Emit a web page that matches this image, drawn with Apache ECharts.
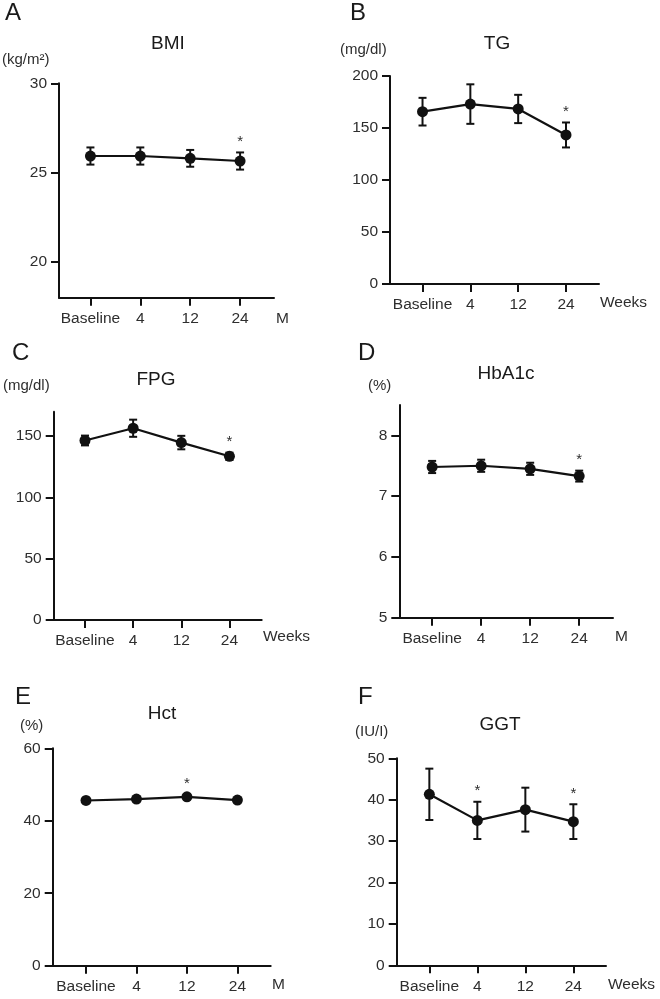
<!DOCTYPE html>
<html>
<head>
<meta charset="utf-8">
<script src="https://cdn.jsdelivr.net/npm/echarts@6/dist/echarts.min.js"></script>
<style>
html,body{margin:0;padding:0;background:#fff;}
#c{width:660px;height:999px;}
</style>
</head>
<body>
<div id="c"></div>
<script>
// ---- data ----
const categories = ['Baseline', '4', '12', '24'];

const bmiMean = [25.93, 25.93, 25.80, 25.65];
const bmiErr  = [0.48, 0.48, 0.47, 0.48];
const bmiSig  = [0, 0, 0, 1];

const tgMean = [165.7, 173.0, 168.3, 143.3];
const tgErr  = [13.3, 19.0, 13.6, 12.0];
const tgSig  = [0, 0, 0, 1];

const fpgMean = [146.5, 156.5, 144.8, 133.6];
const fpgErr  = [4.0, 7.0, 5.5, 3.0];
const fpgSig  = [0, 0, 0, 1];

const hba1cMean = [7.48, 7.50, 7.45, 7.33];
const hba1cErr  = [0.10, 0.10, 0.10, 0.09];
const hba1cSig  = [0, 0, 0, 1];

const hctMean = [45.6, 46.0, 46.6, 45.7];
const hctErr  = [0.6, 0.6, 0.6, 0.6];
const hctSig  = [0, 0, 1, 0];

const ggtMean = [41.3, 35.0, 37.6, 34.7];
const ggtErr  = [6.2, 4.5, 5.3, 4.2];
const ggtSig  = [0, 1, 0, 1];

const bmiTicks = [20, 25, 30];
const tgTicks = [0, 50, 100, 150, 200];
const fpgTicks = [0, 50, 100, 150];
const hba1cTicks = [5, 6, 7, 8];
const hctTicks = [0, 20, 40, 60];
const ggtTicks = [0, 10, 20, 30, 40, 50];

// ---- layout ----
const FONT = '"Liberation Sans", Arial, Helvetica, sans-serif';
const INK = '#111';
const TXT = '#2e2e2e';

const panels = [
  {letter:'A', title:'BMI', unit:'(kg/m²)', xunit:'M', mean:bmiMean, err:bmiErr, sig:bmiSig, ticks:bmiTicks,
   ymin:18, ymax:30, xmin:-0.63, xmax:3.68, left:59, top:83.3, w:215, h:214.4,
   letterPos:[5,13], titlePos:[168,44], unitPos:[2,60], xunitPos:[276,319]},
  {letter:'B', title:'TG', unit:'(mg/dl)', xunit:'Weeks', mean:tgMean, err:tgErr, sig:tgSig, ticks:tgTicks,
   ymin:0, ymax:200, xmin:-0.68, xmax:3.69, left:390, top:76, w:209, h:208,
   letterPos:[350,13], titlePos:[497,44], unitPos:[340,50], xunitPos:[600,303]},
  {letter:'C', title:'FPG', unit:'(mg/dl)', xunit:'Weeks', mean:fpgMean, err:fpgErr, sig:fpgSig, ticks:fpgTicks,
   ymin:0, ymax:170, xmin:-0.65, xmax:3.67, left:53.7, top:411.7, w:208, h:208.3,
   letterPos:[12,353], titlePos:[156,380], unitPos:[3,386], xunitPos:[263,637]},
  {letter:'D', title:'HbA1c', unit:'(%)', xunit:'M', mean:hba1cMean, err:hba1cErr, sig:hba1cSig, ticks:hba1cTicks,
   ymin:5, ymax:8.5, xmin:-0.67, xmax:3.69, left:399.3, top:405, w:213.7, h:212.7,
   letterPos:[358,353], titlePos:[506,374], unitPos:[368,386], xunitPos:[615,637]},
  {letter:'E', title:'Hct', unit:'(%)', xunit:'M', mean:hctMean, err:hctErr, sig:hctSig, ticks:hctTicks,
   ymin:0, ymax:60, xmin:-0.66, xmax:3.66, left:52.7, top:748.3, w:218, h:217.4,
   letterPos:[15,697], titlePos:[162,714], unitPos:[20,726], xunitPos:[272,985]},
  {letter:'F', title:'GGT', unit:'(IU/I)', xunit:'Weeks', mean:ggtMean, err:ggtErr, sig:ggtSig, ticks:ggtTicks,
   ymin:0, ymax:50, xmin:-0.68, xmax:3.68, left:396.7, top:758.3, w:209.3, h:207,
   letterPos:[358,697], titlePos:[500,725], unitPos:[355,732], xunitPos:[608,985]}
];

const grids = [], xAxes = [], yAxes = [], series = [], graphics = [];
const catIdx = categories.map((c, i) => i);

panels.forEach((p, k) => {
  grids.push({left:p.left, top:p.top, width:p.w, height:p.h, containLabel:false});
  xAxes.push({
    type:'value', gridIndex:k, min:p.xmin, max:p.xmax,
    axisLine:{show:true, onZero:false, lineStyle:{color:INK, width:2}},
    axisTick:{show:true, customValues:catIdx, length:8, lineStyle:{color:INK, width:2}},
    axisLabel:{show:true, customValues:catIdx, margin:13, color:TXT, fontSize:15.5, fontFamily:FONT,
      formatter:v => categories[Math.round(v)]},
    splitLine:{show:false}
  });
  yAxes.push({
    type:'value', gridIndex:k, min:p.ymin, max:p.ymax,
    axisLine:{show:true, onZero:false, lineStyle:{color:INK, width:2}},
    axisTick:{show:true, customValues:p.ticks, length:8, lineStyle:{color:INK, width:2}},
    axisLabel:{show:true, customValues:p.ticks, margin:12, color:TXT, fontSize:15.5, fontFamily:FONT},
    splitLine:{show:false}
  });
  // error bars
  series.push({
    type:'custom', xAxisIndex:k, yAxisIndex:k, z:2,
    data:p.mean.map((m, i) => [i, m - p.err[i], m + p.err[i]]),
    renderItem:(params, api) => {
      const x = api.value(0);
      const lo = api.coord([x, api.value(1)]);
      const hi = api.coord([x, api.value(2)]);
      const cw = 4;
      const st = {stroke:INK, lineWidth:2};
      return {type:'group', children:[
        {type:'line', shape:{x1:hi[0], y1:hi[1], x2:lo[0], y2:lo[1]}, style:st},
        {type:'line', shape:{x1:hi[0]-cw, y1:hi[1], x2:hi[0]+cw, y2:hi[1]}, style:st},
        {type:'line', shape:{x1:lo[0]-cw, y1:lo[1], x2:lo[0]+cw, y2:lo[1]}, style:st}
      ]};
    },
    silent:true
  });
  // mean line
  series.push({
    type:'line', xAxisIndex:k, yAxisIndex:k, z:3,
    data:p.mean.map((m, i) => [i, m]),
    symbol:'circle', symbolSize:11,
    lineStyle:{color:INK, width:2.2},
    itemStyle:{color:INK},
    silent:true
  });
  // significance stars
  series.push({
    type:'custom', xAxisIndex:k, yAxisIndex:k, z:4,
    data:p.mean.map((m, i) => [i, m + p.err[i]]).filter((d, i) => p.sig[i]),
    renderItem:(params, api) => {
      const pt = api.coord([api.value(0), api.value(1)]);
      return {type:'text', x:pt[0], y:pt[1] - 3,
        style:{text:'*', fontSize:15, fontFamily:FONT, fill:TXT, align:'center', verticalAlign:'bottom'}};
    },
    silent:true
  });
  graphics.push(
    {type:'text', x:p.letterPos[0], y:p.letterPos[1],
     style:{text:p.letter, fontSize:24, fontFamily:FONT, fill:'#1a1a1a', align:'left', verticalAlign:'middle'}},
    {type:'text', x:p.titlePos[0], y:p.titlePos[1],
     style:{text:p.title, fontSize:19, fontFamily:FONT, fill:'#1a1a1a', align:'center', verticalAlign:'middle'}},
    {type:'text', x:p.unitPos[0], y:p.unitPos[1],
     style:{text:p.unit, fontSize:15, fontFamily:FONT, fill:TXT, align:'left', verticalAlign:'middle'}},
    {type:'text', x:p.xunitPos[0], y:p.xunitPos[1],
     style:{text:p.xunit, fontSize:15.5, fontFamily:FONT, fill:TXT, align:'left', verticalAlign:'middle'}}
  );
});

const chart = echarts.init(document.getElementById('c'), null, {renderer:'canvas'});
chart.setOption({
  animation:false,
  backgroundColor:'#fff',
  grid:grids, xAxis:xAxes, yAxis:yAxes, series:series, graphic:graphics
});
</script>
</body>
</html>
